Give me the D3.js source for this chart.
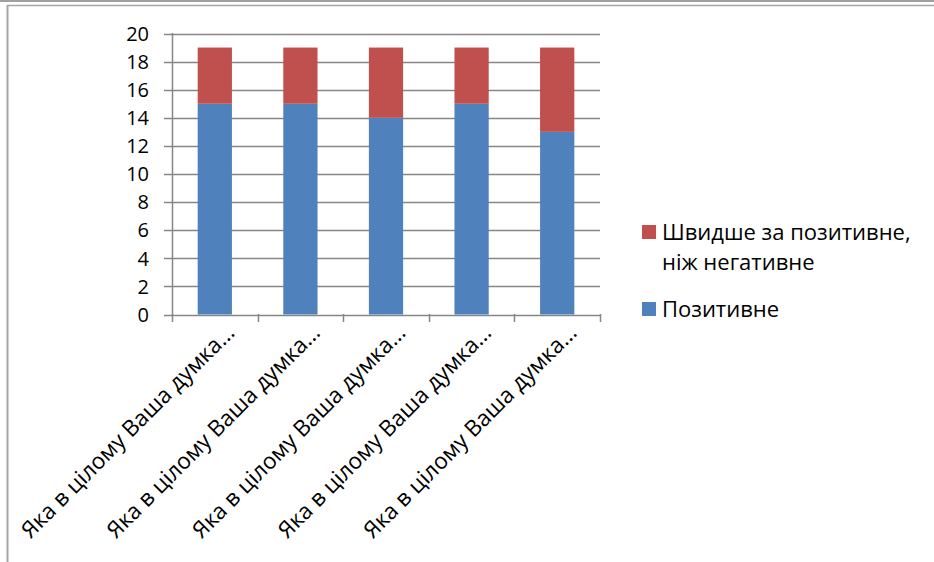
<!DOCTYPE html>
<html><head><meta charset="utf-8">
<script src="https://cdn.jsdelivr.net/npm/d3@7"></script>
<style>body{margin:0;background:#fff}svg{display:block;font-family:"Open Sans","Liberation Sans",sans-serif}</style>
</head><body>
<script>
const categories = ["Яка в цілому Ваша думка…","Яка в цілому Ваша думка…","Яка в цілому Ваша думка…","Яка в цілому Ваша думка…","Яка в цілому Ваша думка…"];
const seriesNames = ["Позитивне","Швидше за позитивне, ніж негативне"];
const positive = [15,15,14,15,13];
const ratherPositive = [4,4,5,4,6];
const yTicks = [0,2,4,6,8,10,12,14,16,18,20];
const colors = ["#4F81BD","#C0504D"];

const W=934,H=562;
const svg=d3.select("body").append("svg").attr("width",W).attr("height",H);
// outer frame
svg.append("rect").attr("x",0).attr("y",0).attr("width",W).attr("height",2).attr("fill","#a0a0a0");
svg.append("line").attr("x1",7.5).attr("x2",W).attr("y1",5.5).attr("y2",5.5).attr("stroke","#a6a6a6").attr("stroke-width",1.5);
svg.append("line").attr("x1",7.5).attr("x2",7.5).attr("y1",5).attr("y2",H).attr("stroke","#a6a6a6").attr("stroke-width",2);

const x=d3.scaleBand().domain(d3.range(categories.length)).range([172,600]).paddingInner(0.6).paddingOuter(0.3);
const y=d3.scaleLinear().domain([0,20]).range([314.5,33.5]);

// gridlines
svg.append("g").selectAll("line").data(yTicks).join("line")
 .attr("x1",164).attr("x2",600).attr("y1",d=>Math.round(y(d))+0.5).attr("y2",d=>Math.round(y(d))+0.5)
 .attr("stroke","#868686").attr("stroke-width",1.5);
svg.append("g").selectAll("text").data(yTicks).join("text")
 .attr("x",149).attr("y",d=>y(d)).attr("dy","0.36em").attr("text-anchor","end")
 .attr("font-size",20).attr("fill","#000").text(d=>d);

const stackData=categories.map((c,i)=>({i,p:positive[i],r:ratherPositive[i]}));
const stack=d3.stack().keys(["p","r"])(stackData);
svg.append("g").selectAll("g").data(stack).join("g").attr("fill",(d,k)=>colors[k])
 .selectAll("rect").data(d=>d).join("rect")
 .attr("x",d=>x(d.data.i)).attr("width",x.bandwidth())
 .attr("y",d=>y(d[1])).attr("height",d=>y(d[0])-y(d[1]));

// axes lines
svg.append("line").attr("x1",172.5).attr("x2",172.5).attr("y1",33).attr("y2",315).attr("stroke","#868686").attr("stroke-width",1.5);
const step=(600-172)/categories.length;
const catTicks=d3.range(categories.length+1).map(k=>172+k*step);
svg.append("g").selectAll("line").data(catTicks).join("line")
 .attr("x1",d=>Math.round(d)+0.5).attr("x2",d=>Math.round(d)+0.5).attr("y1",314).attr("y2",322)
 .attr("stroke","#868686").attr("stroke-width",1.5);

// category labels
svg.append("g").selectAll("text").data(categories).join("text")
 .attr("transform",(d,i)=>`translate(${x(i)+x.bandwidth()/2+21},${334}) rotate(-45)`)
 .attr("text-anchor","end").attr("font-size",22.5).attr("fill","#000").text(d=>d);

// legend
const lg=svg.append("g");
lg.append("rect").attr("x",642).attr("y",225).attr("width",14).attr("height",14).attr("fill",colors[1]);
lg.append("text").attr("x",662).attr("y",240).attr("font-size",22).text("Швидше за позитивне,");
lg.append("text").attr("x",662).attr("y",270).attr("font-size",22).text("ніж негативне");
lg.append("rect").attr("x",642).attr("y",302).attr("width",14).attr("height",14).attr("fill",colors[0]);
lg.append("text").attr("x",662).attr("y",317).attr("font-size",22).text(seriesNames[0]);
</script>
</body></html>
